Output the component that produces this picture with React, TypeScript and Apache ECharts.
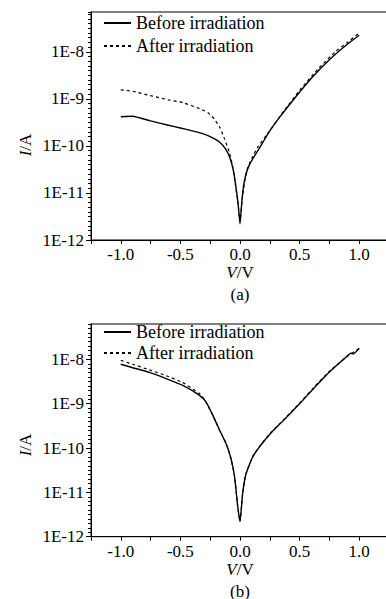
import React, { useEffect, useRef } from "react";
import * as echarts from "echarts";

// ---- Data ----
const xTicks = [-1.0, -0.5, 0.0, 0.5, 1.0];
const yTickLabels = ["1E-12", "1E-11", "1E-10", "1E-9", "1E-8"];
const legendNames = ["Before irradiation", "After irradiation"];

// Panel (a)
const vBeforeA = [-1.0, -0.9, -0.75, -0.6, -0.5, -0.4, -0.3, -0.23, -0.17, -0.12, -0.08, -0.05, -0.03, -0.015, 0, 0.015, 0.03, 0.05, 0.08, 0.13, 0.19, 0.25, 0.33, 0.47, 0.61, 0.75, 0.89, 1.0];
const iBeforeA = [4.17e-10, 4.27e-10, 3.39e-10, 2.75e-10, 2.4e-10, 2.09e-10, 1.78e-10, 1.48e-10, 1.2e-10, 8.5e-11, 5.2e-11, 2.5e-11, 1.12e-11, 5.6e-12, 2.2e-12, 6.3e-12, 1.41e-11, 2.5e-11, 4.0e-11, 6.6e-11, 1.17e-10, 2.09e-10, 3.98e-10, 1.12e-9, 2.95e-9, 6.8e-9, 1.38e-8, 2.24e-8];
const vAfterA = [-1.0, -0.9, -0.75, -0.6, -0.48, -0.34, -0.27, -0.215, -0.17, -0.13, -0.09, -0.06, -0.04, -0.02, 0, 0.02, 0.04, 0.06, 0.1, 0.15, 0.25, 0.35, 0.5, 0.65, 0.8, 0.9, 1.0];
const iAfterA = [1.55e-9, 1.45e-9, 1.17e-9, 9.5e-10, 8.3e-10, 6.2e-10, 5.1e-10, 3.7e-10, 2.5e-10, 1.41e-10, 7.4e-11, 3.5e-11, 1.58e-11, 7.1e-12, 2.5e-12, 7.9e-12, 1.78e-11, 3.2e-11, 5.6e-11, 9.5e-11, 2.1e-10, 4.8e-10, 1.51e-9, 4.2e-9, 1.0e-8, 1.58e-8, 2.5e-8];

// Panel (b)
const vBeforeB = [-1.0, -0.9, -0.76, -0.62, -0.48, -0.34, -0.285, -0.23, -0.17, -0.12, -0.09, -0.07, -0.048, -0.035, -0.02, 0, 0.022, 0.05, 0.106, 0.162, 0.218, 0.273, 0.357, 0.44, 0.5, 0.61, 0.75, 0.9, 0.93, 0.95, 1.0];
const iBeforeB = [7.8e-9, 6.5e-9, 5.1e-9, 3.7e-9, 2.6e-9, 1.55e-9, 1.1e-9, 5.6e-10, 2.5e-10, 1.32e-10, 7.9e-11, 5.0e-11, 2.5e-11, 1.26e-11, 5.0e-12, 2.2e-12, 9.3e-12, 2.6e-11, 6.3e-11, 1.05e-10, 1.62e-10, 2.4e-10, 4.0e-10, 6.8e-10, 1.0e-9, 2.1e-9, 5.2e-9, 1.2e-8, 1.38e-8, 1.32e-8, 1.78e-8];
const vAfterB = [-1.0, -0.9, -0.76, -0.62, -0.48, -0.34, -0.3, -0.23, -0.17, -0.12, -0.09, -0.07, -0.048, -0.035, -0.02, 0, 0.022, 0.05, 0.106, 0.162, 0.218, 0.273, 0.357, 0.44, 0.5, 0.61, 0.75, 0.9, 1.0];
const iAfterB = [9.5e-9, 7.8e-9, 5.8e-9, 4.3e-9, 3.0e-9, 1.7e-9, 1.26e-9, 5.7e-10, 2.5e-10, 1.32e-10, 7.9e-11, 5.0e-11, 2.5e-11, 1.26e-11, 5.0e-12, 2.2e-12, 9.3e-12, 2.6e-11, 6.4e-11, 1.07e-10, 1.66e-10, 2.45e-10, 4.1e-10, 7.0e-10, 1.03e-9, 2.2e-9, 5.4e-9, 1.17e-8, 1.78e-8];

const pairs = (xs: number[], ys: number[]) => xs.map((x, k) => [x, ys[k]]);

const FONT = "Liberation Serif";
const MAX_A = 7e-8;
const MAX_B = 6.3e-8;

export default function App() {
  const ref = useRef<HTMLDivElement>(null);
  useEffect(() => {
    if (!ref.current) return;
    const chart = echarts.init(ref.current, undefined, { renderer: "svg" });

    const yFormatter = (v: number) => {
      const e = Math.log10(v);
      const r = Math.round(e);
      if (Math.abs(e - r) > 1e-6) return "";
      const lbl = "1E" + r;
      return yTickLabels.includes(lbl) ? lbl : "";
    };
    const xFormatter = (v: number) => {
      if (Math.abs(v) < 1e-9) return "0.0";
      const match = xTicks.some((t) => Math.abs(t - v) < 1e-6);
      return match ? v.toFixed(1) : "";
    };

    const makeX = (gridIndex: number, nameGap: number) => ({
      type: "value",
      gridIndex,
      min: -1.25,
      max: 1.25,
      interval: 0.25,
      axisLine: { show: true, onZero: false, lineStyle: { color: "#000", width: 1 } },
      axisTick: { show: true, length: 4, lineStyle: { color: "#000" } },
      splitLine: { show: false },
      axisLabel: {
        formatter: xFormatter,
        color: "#000",
        fontFamily: FONT,
        fontSize: 17,
        margin: 6,
      },
      name: "{i|V}/V",
      nameLocation: "middle",
      nameGap,
      nameTextStyle: {
        color: "#000",
        fontFamily: FONT,
        fontSize: 17,
        rich: { i: { fontStyle: "italic", fontFamily: FONT, fontSize: 17, color: "#000" } },
      },
    });
    const makeHiddenX = (gridIndex: number) => ({
      type: "value",
      gridIndex,
      min: -1.25,
      max: 1.25,
      show: false,
    });
    const makeY = (gridIndex: number, max: number) => ({
      type: "log",
      logBase: 10,
      gridIndex,
      position: "left",
      min: 1e-12,
      max,
      axisLine: { show: true, onZero: false, lineStyle: { color: "#000", width: 1 } },
      axisTick: { show: true, length: 5, lineStyle: { color: "#000" } },
      splitLine: { show: false },
      axisLabel: {
        formatter: yFormatter,
        color: "#000",
        fontFamily: FONT,
        fontSize: 17,
        margin: 7,
        showMaxLabel: false,
      },
    });
    // auxiliary axis (decade exponent) on an overlay grid, used only to draw the minor ticks
    const makeMinorY = (gridIndex: number, max: number) => ({
      type: "value",
      gridIndex,
      position: "left",
      min: -12,
      max: Math.log10(max),
      interval: 0.1,
      axisLine: { show: false, onZero: false },
      axisTick: { show: true, length: 3, lineStyle: { color: "#000", width: 1 } },
      axisLabel: { show: false },
      splitLine: { show: false },
    });

    const lineSeries = (name: string, data: number[][], idx: number, dashed: boolean) => ({
      type: "line",
      name,
      xAxisIndex: idx,
      yAxisIndex: idx,
      data,
      symbol: "none",
      showSymbol: false,
      smooth: 0.15,
      z: dashed ? 2 : 3,
      itemStyle: { color: "#000" },
      lineStyle: dashed
        ? { color: "#000", width: 1.2, type: [3, 3] }
        : { color: "#000", width: 1.4, type: "solid" },
    });

    const legendCommon = {
      orient: "vertical",
      left: 103,
      padding: 0,
      itemWidth: 27,
      itemHeight: 14,
      data: legendNames,
      itemStyle: { opacity: 0 },
      textStyle: { color: "#000", fontFamily: FONT, fontSize: 18 },
      selectedMode: false,
    };

    const yName = (y: number) => ({
      type: "text",
      x: 25,
      y,
      rotation: Math.PI / 2,
      style: {
        text: "{i|I}/A",
        align: "center",
        verticalAlign: "middle",
        fill: "#000",
        font: `17px "${FONT}"`,
        rich: {
          i: { fontStyle: "italic", fontFamily: FONT, fontSize: 17, fill: "#000" },
        },
      },
    });

    const gridA = { left: 91, top: 12, width: 298, height: 228 };
    const gridB = { left: 91, top: 324, width: 298, height: 212.7 };

    chart.setOption({
      animation: false,
      backgroundColor: "#fff",
      grid: [
        { ...gridA, show: true, borderColor: "#000", borderWidth: 1, containLabel: false },
        { ...gridB, show: true, borderColor: "#000", borderWidth: 1, containLabel: false },
        { ...gridA, show: false, containLabel: false },
        { ...gridB, show: false, containLabel: false },
      ],
      xAxis: [makeX(0, 24), makeX(1, 18), makeHiddenX(2), makeHiddenX(3)],
      yAxis: [makeY(0, MAX_A), makeY(1, MAX_B), makeMinorY(2, MAX_A), makeMinorY(3, MAX_B)],
      legend: [
        { ...legendCommon, top: 14, itemGap: 5 },
        { ...legendCommon, top: 323, itemGap: 3 },
      ],
      series: [
        lineSeries(legendNames[0], pairs(vBeforeA, iBeforeA), 0, false),
        lineSeries(legendNames[1], pairs(vAfterA, iAfterA), 0, true),
        lineSeries(legendNames[0], pairs(vBeforeB, iBeforeB), 1, false),
        lineSeries(legendNames[1], pairs(vAfterB, iAfterB), 1, true),
      ],
      graphic: [
        yName(145),
        yName(445),
        {
          type: "text",
          x: 240,
          y: 294,
          style: { text: "(a)", align: "center", verticalAlign: "middle", fill: "#000", font: `17px "${FONT}"` },
        },
        {
          type: "text",
          x: 240,
          y: 591,
          style: { text: "(b)", align: "center", verticalAlign: "middle", fill: "#000", font: `17px "${FONT}"` },
        },
      ],
    });
    return () => chart.dispose();
  }, []);

  return (
    <div style={{ position: "fixed", left: 0, top: 0, width: 386, height: 599, overflow: "hidden", background: "#fff" }}>
      <div ref={ref} style={{ position: "absolute", left: 0, top: 0, width: 400, height: 599 }} />
    </div>
  );
}
